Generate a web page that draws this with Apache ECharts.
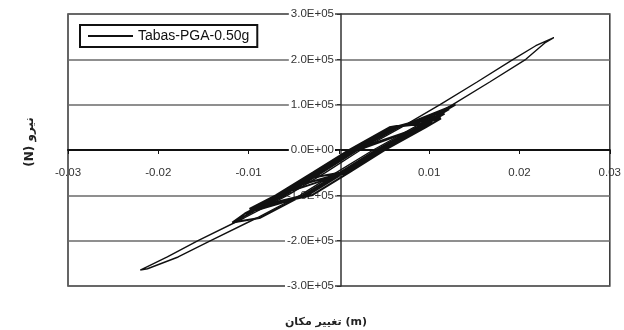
<!DOCTYPE html>
<html>
<head>
<meta charset="utf-8">
<script src="https://cdn.jsdelivr.net/npm/echarts@6/dist/echarts.min.js"></script>
<style>
  html, body { margin: 0; padding: 0; background: #fff; }
  #chart { width: 624px; height: 330px; }
</style>
</head>
<body>
<div id="chart"></div>
<script>
// tick labels
const xTickLabels = ['-0.03', '-0.02', '-0.01', '', '0.01', '0.02', '0.03']
const yTickValues = [-300000, -200000, -100000, 0, 100000, 200000, 300000]
const yTickLabels = ['-3.0E+05', '-2.0E+05', '-1.0E+05', '0.0E+00', '1.0E+05', '2.0E+05', '3.0E+05']

// displacement (m), force (N), one array per cycle
const loopBig = [
  [-0.0220, -265000], [-0.0190, -236000], [-0.0156, -200000], [-0.0105, -150000],
  [-0.0057, -100000], [-0.0015, -50000], [0.0024, 0], [0.0069, 50000],
  [0.0112, 100000], [0.0153, 150000], [0.0193, 200000], [0.0218, 230000],
  [0.0238, 248000], [0.0228, 236000], [0.0207, 200000], [0.0167, 150000],
  [0.0126, 100000], [0.0083, 50000], [0.0038, 0], [-0.0003, -50000],
  [-0.0043, -100000], [-0.0091, -150000], [-0.0142, -200000], [-0.0178, -236000],
  [-0.0212, -262000], [-0.0220, -265000]
]
const loop2 = [
  [-0.0118, -160000], [-0.0060, -100000], [-0.0019, -50000], [0.0021, 0], [0.0066, 50000],
  [0.0129, 100000], [0.0086, 50000], [0.0041, 0], [0.0001, -50000], [-0.0040, -100000],
  [-0.0088, -150000], [-0.0118, -160000]
]
const loop3 = [
  [-0.0104, -140000], [-0.0065, -100000], [-0.0024, -50000], [0.0016, 0], [0.0061, 50000],
  [0.0117, 80000], [0.0091, 50000], [0.0046, 0], [0.0006, -50000], [-0.0035, -100000],
  [-0.0104, -140000]
]
const loop4 = [
  [-0.0081, -120000], [-0.0062, -100000], [-0.0021, -50000], [0.0019, 0], [0.0064, 50000],
  [0.0122, 90000], [0.0088, 50000], [0.0043, 0], [0.0003, -50000], [-0.0038, -100000],
  [-0.0081, -120000]
]
const loop5 = [
  [-0.0068, -100000], [-0.0027, -50000], [0.0013, 0], [0.0058, 50000], [0.0103, 60000],
  [0.0094, 50000], [0.0049, 0], [0.0009, -50000], [-0.0068, -100000]
]
const loop6 = [
  [-0.0048, -80000], [-0.0023, -50000], [0.0017, 0], [0.0090, 50000],
  [0.0045, 0], [0.0005, -50000], [-0.0048, -80000]
]
const loop7 = [
  [-0.0099, -130000], [-0.0070, -100000], [-0.0029, -50000], [0.0011, 0], [0.0056, 50000],
  [0.0113, 70000], [0.0096, 50000], [0.0051, 0], [0.0011, -50000], [-0.0030, -100000],
  [-0.0099, -130000]
]
const loop8 = [
  [-0.0027, -60000], [0.0021, 0], [0.0077, 40000], [0.0041, 0], [0.0001, -50000], [-0.0027, -60000]
]

const seriesName = 'Tabas-PGA-0.50g'
const xTitle = 'تغییر مکان (m)'
const yTitle = '\u202Bنیرو (N)\u202C'

const innerCycles = [].concat(loop2, loop3, loop4, loop5, loop6, loop7, loop8)

const gridLeft = 68
const gridRight = 10
const gridTop = 14
const gridBottom = 44
const plotW = 624 - gridLeft - gridRight
const plotH = 330 - gridTop - gridBottom

const chart = echarts.init(document.getElementById('chart'))
const option = {
  backgroundColor: '#fff',
  animation: false,
  grid: {
    left: gridLeft,
    right: gridRight,
    top: gridTop,
    bottom: gridBottom,
    show: true,
    borderColor: '#333',
    borderWidth: 1.5,
    backgroundColor: '#fff'
  },
  legend: {
    left: 80,
    top: 25,
    padding: [4, 8, 4, 8],
    borderColor: '#111',
    borderWidth: 2,
    backgroundColor: '#fff',
    icon: 'rect',
    itemWidth: 45,
    itemHeight: 2,
    textStyle: {
      fontFamily: 'Liberation Sans',
      fontSize: 14,
      color: '#111',
      lineHeight: 14
    },
    data: [seriesName]
  },
  xAxis: {
    type: 'value',
    position: 'bottom',
    offset: -plotH / 2, // axis crosses at y = 0
    min: -0.03,
    max: 0.03,
    interval: 0.01,
    axisLine: { onZero: false, lineStyle: { color: '#111', width: 2 } },
    axisTick: { show: true, length: 4, lineStyle: { color: '#111' } },
    axisLabel: {
      margin: 17,
      fontFamily: 'Liberation Sans',
      fontSize: 11.5,
      color: '#333',
      formatter: function (v) {
        return xTickLabels[Math.round(v * 100) + 3] || ''
      }
    },
    splitLine: { show: false }
  },
  yAxis: {
    type: 'value',
    position: 'left',
    offset: -plotW / 2, // axis crosses at x = 0
    min: -300000,
    max: 300000,
    interval: 100000,
    axisLine: { onZero: false, lineStyle: { color: '#333', width: 1.5 } },
    axisTick: { show: true, length: 4, lineStyle: { color: '#333' } },
    axisLabel: {
      margin: 6,
      align: 'right',
      fontFamily: 'Liberation Sans',
      fontSize: 11.5,
      color: '#333',
      backgroundColor: '#fff',
      padding: [0, 1, 0, 2],
      formatter: function (v) {
        return yTickLabels[yTickValues.indexOf(v)] || ''
      }
    },
    splitLine: { show: true, lineStyle: { color: '#6a6a6a', width: 1.5 } }
  },
  graphic: [
    {
      type: 'text',
      x: 326,
      y: 322,
      style: {
        text: xTitle,
        font: 'bold 11px "DejaVu Sans"',
        fill: '#222',
        align: 'center',
        verticalAlign: 'middle'
      }
    },
    {
      type: 'text',
      x: 30,
      y: 142,
      rotation: Math.PI / 2,
      style: {
        text: yTitle,
        font: 'bold 12px "DejaVu Sans"',
        fill: '#222',
        align: 'center',
        verticalAlign: 'middle'
      }
    }
  ],
  series: [
    {
      name: seriesName,
      type: 'line',
      data: loopBig,
      symbol: 'none',
      smooth: false,
      lineStyle: { color: '#111', width: 1.4 },
      itemStyle: { color: '#111' }
    },
    {
      name: seriesName,
      type: 'line',
      data: innerCycles,
      symbol: 'none',
      smooth: false,
      lineStyle: { color: '#111', width: 2 },
      itemStyle: { color: '#111' }
    }
  ]
}
chart.setOption(option)
</script>
</body>
</html>
